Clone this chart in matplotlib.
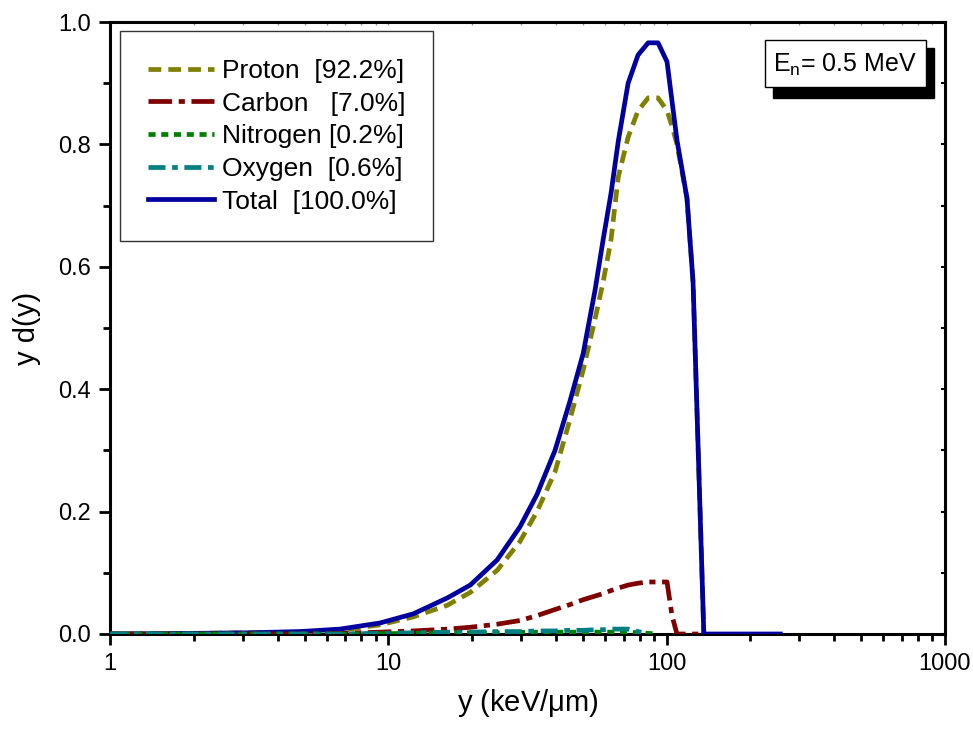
import matplotlib
matplotlib.use("Agg")
import matplotlib.pyplot as plt
from matplotlib.patches import Rectangle

plt.rcParams['font.family'] = ['Liberation Sans', 'DejaVu Sans']
plt.rcParams['mathtext.fontset'] = 'custom'
plt.rcParams['mathtext.rm'] = 'Liberation Sans'
plt.rcParams['mathtext.it'] = 'Liberation Sans'

# lineal energy grid (keV/um)
y_kev = [1.00, 1.99, 3.18, 4.82, 6.70, 9.34, 12.3, 16.3, 19.7, 24.6, 29.7, 34.2,
         39.7, 44.9, 50.1, 55.3, 59.1, 63.1, 67.0, 72.7, 78.9, 85.8, 93.1, 100.3,
         104.5, 108.9, 118.3, 124.4, 136.0, 256.0]

total_vals = [0.000, 0.001, 0.002, 0.004, 0.008, 0.018, 0.033, 0.059, 0.080, 0.121,
              0.175, 0.228, 0.300, 0.380, 0.458, 0.562, 0.644, 0.720, 0.805, 0.900,
              0.946, 0.966, 0.966, 0.935, 0.871, 0.807, 0.712, 0.575, 0.000, 0.000]

proton_vals = [0.000, 0.001, 0.002, 0.003, 0.006, 0.015, 0.028, 0.047, 0.068, 0.104,
               0.151, 0.200, 0.265, 0.350, 0.431, 0.515, 0.575, 0.644, 0.747, 0.812,
               0.855, 0.876, 0.876, 0.855, 0.830, 0.800, 0.712, 0.575, 0.000]

carbon_vals = [0.000, 0.000, 0.000, 0.000, 0.001, 0.003, 0.005, 0.008, 0.011, 0.016,
               0.022, 0.030, 0.040, 0.048, 0.056, 0.062, 0.066, 0.071, 0.075, 0.080,
               0.083, 0.085, 0.085, 0.085, 0.030, 0.000, 0.000, 0.000, 0.000]

nitrogen_vals = [0.000, 0.000, 0.000, 0.000, 0.000, 0.0005, 0.001, 0.0015, 0.002, 0.002,
                 0.0025, 0.003, 0.003, 0.003, 0.003, 0.003, 0.003, 0.003, 0.003, 0.003,
                 0.002, 0.001, 0.000]

oxygen_vals = [0.000, 0.000, 0.000, 0.000, 0.000, 0.001, 0.002, 0.003, 0.003, 0.004,
               0.004, 0.005, 0.005, 0.006, 0.006, 0.007, 0.007, 0.008, 0.008, 0.008,
               0.004, 0.000]

labels = ['Proton  [92.2%]', 'Carbon   [7.0%]', 'Nitrogen [0.2%]',
          'Oxygen  [0.6%]', 'Total  [100.0%]']
colors = ['#808000', '#800000', '#008000', '#008080', '#0000A0']

fig = plt.figure(figsize=(9.73, 7.31), dpi=100)
ax = fig.add_axes([0.1131, 0.1327, 0.8581, 0.8372])

lw = 3.4
hp, = ax.plot(y_kev[:len(proton_vals)], proton_vals, color=colors[0], lw=lw,
              linestyle=(0, (2.7, 1.5)), zorder=3)
ht, = ax.plot(y_kev[:len(total_vals)], total_vals, color=colors[4], lw=lw,
              linestyle='-', zorder=4)
hc, = ax.plot(y_kev[:len(carbon_vals)], carbon_vals, color=colors[1], lw=lw,
              linestyle=(0, (5.0, 1.4, 1.3, 1.4)), zorder=5)
hn, = ax.plot(y_kev[:len(nitrogen_vals)], nitrogen_vals, color=colors[2], lw=lw,
              linestyle=(0, (1.5, 1.2)), zorder=5)
ho, = ax.plot(y_kev[:len(oxygen_vals)], oxygen_vals, color=colors[3], lw=lw,
              linestyle=(0, (3.6, 1.4, 1.2, 1.4)), zorder=6)

ax.set_xscale('log')
ax.set_xlim(1, 1000)
ax.set_ylim(0, 1.0)
ax.set_xticks([1, 10, 100, 1000])
ax.set_xticklabels(['1', '10', '100', '1000'])
ax.set_yticks([0.0, 0.2, 0.4, 0.6, 0.8, 1.0])
ax.set_yticklabels(['0.0', '0.2', '0.4', '0.6', '0.8', '1.0'])

for s in ax.spines.values():
    s.set_linewidth(2.2)
ax.tick_params(which='major', direction='out', length=8, width=2.0,
               labelsize=17, top=False, right=False, pad=6)
ax.tick_params(which='minor', direction='out', length=5, width=2.0,
               top=False, right=False)
ax.minorticks_on()
ax.set_yticks([0.1, 0.3, 0.5, 0.7, 0.9], minor=True)

ax2 = ax.secondary_xaxis('top')
ax2.set_xticks([1, 10, 100, 1000])
ax2.tick_params(which='both', direction='in', length=2, width=1,
                labeltop=False, colors='#999999')
ax3 = ax.secondary_yaxis('right')
ax3.set_yticks([0.0, 0.2, 0.4, 0.6, 0.8, 1.0])
ax3.set_yticks([0.1, 0.3, 0.5, 0.7, 0.9], minor=True)
ax3.tick_params(which='both', direction='in', length=3, width=1.5,
                labelright=False)
for sp in ax2.spines.values():
    sp.set_visible(False)
for sp in ax3.spines.values():
    sp.set_visible(False)

ax.set_xlabel('y (keV/$\\mu$m)', fontsize=21, labelpad=8)
ax.set_ylabel('y d(y)', fontsize=21, labelpad=12)

leg = ax.legend([hp, hc, hn, ho, ht], labels, loc='upper left',
                bbox_to_anchor=(0.012, 0.985), borderaxespad=0,
                fontsize=19, frameon=True, fancybox=False, shadow=False,
                handlelength=2.5, handletextpad=0.3, borderpad=1.05,
                labelspacing=0.33)
leg.get_frame().set_edgecolor('black')
leg.get_frame().set_linewidth(1.0)

# E_n annotation box with shadow
fig.patches.append(Rectangle((773 / 973, 1 - 98 / 731), 161 / 973, 50 / 731,
                             transform=fig.transFigure, facecolor='black',
                             edgecolor='black', zorder=10))
fig.patches.append(Rectangle((765 / 973, 1 - 87 / 731), 161 / 973, 47 / 731,
                             transform=fig.transFigure, facecolor='white',
                             edgecolor='black', lw=1.0, zorder=11))
fig.text(845 / 973, 1 - 65 / 731, 'E$_\\mathrm{n}$= 0.5 MeV', ha='center',
         va='center', fontsize=18, zorder=12)

fig.savefig('out.png', dpi=100)
